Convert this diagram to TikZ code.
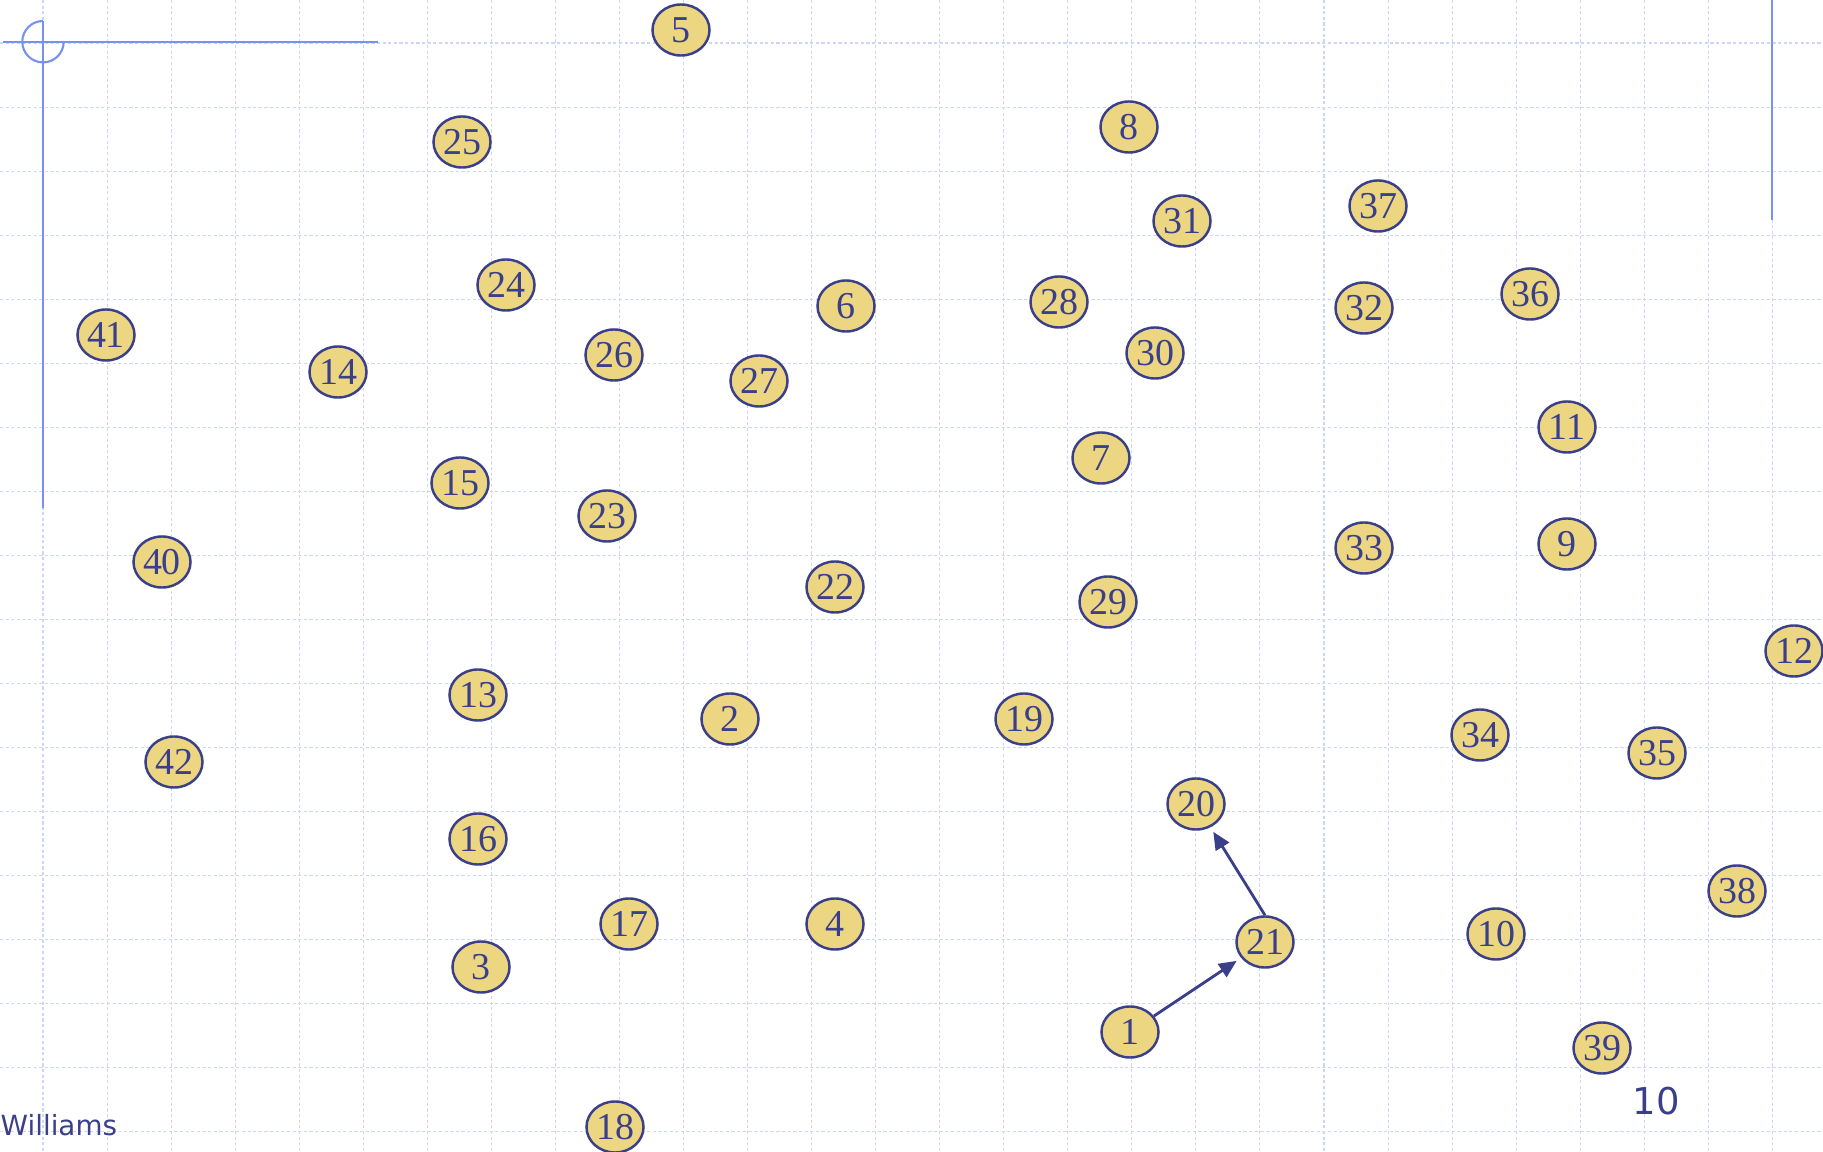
\documentclass[tikz,border=0pt]{standalone}
\usepackage{fontspec}
\setmainfont{Liberation Serif}
\newfontfamily\slidefont{DejaVu Sans}
\usepackage{xcolor}
\usepackage{tikz}
\usetikzlibrary{arrows.meta,shapes.geometric}
\definecolor{gridblue}{HTML}{CCD6F8}
\definecolor{ruleblue}{HTML}{7890EE}
\definecolor{inkblue}{HTML}{3A3F8A}
\definecolor{nodefill}{HTML}{EDD681}

\begin{document}
\begin{tikzpicture}[
    x=0.01cm, y=-0.01cm,
    gridline/.style={gridblue, line width=0.3pt, dash pattern=on 0.9pt off 0.7pt},
    rule/.style={ruleblue, line width=0.6pt},
    num/.style={ellipse, draw=inkblue, line width=0.7pt, fill=nodefill, text=inkblue,
        minimum width=0.57cm, minimum height=0.51cm, inner sep=0pt,
        font=\fontsize{10.8}{12}\selectfont},
    link/.style={inkblue, line width=0.8pt, -{Triangle[length=5pt,width=4.4pt]}, shorten >=1.5pt},
    footer/.style={text=inkblue, inner sep=0pt}
]
\useasboundingbox (0,0) rectangle (1823,1152);

\foreach \gx in {0,...,27}
    \draw[gridline] ({43+64.05*\gx},0) -- ({43+64.05*\gx},1152);
\foreach \gy in {0,...,17}
    \draw[gridline] (0,{43+64.05*\gy}) -- (1823,{43+64.05*\gy});

\draw[rule] (3,42) -- (378,42);
\draw[rule] (43,21) -- (43,508);
\draw[rule] (43,21) arc[start angle=90, end angle=360, radius=0.207cm];
\draw[rule] (1772,0) -- (1772,220);

\node[num] (n5) at (681,30) {5};
\node[num] (n25) at (462,142) {25};
\node[num] (n8) at (1129,127) {8};
\node[num] (n31) at (1182,221) {31};
\node[num] (n37) at (1378,206) {37};
\node[num] (n24) at (506,285) {24};
\node[num] (n6) at (846,306) {6};
\node[num] (n28) at (1059,302) {28};
\node[num] (n32) at (1364,308) {32};
\node[num] (n36) at (1530,294) {36};
\node[num] (n41) at (106,335) {41};
\node[num] (n14) at (338,372) {14};
\node[num] (n26) at (614,355) {26};
\node[num] (n27) at (759,381) {27};
\node[num] (n30) at (1155,353) {30};
\node[num] (n11) at (1567,427) {11};
\node[num] (n15) at (460,483) {15};
\node[num] (n23) at (607,516) {23};
\node[num] (n7) at (1101,458) {7};
\node[num] (n40) at (162,562) {40};
\node[num] (n22) at (835,587) {22};
\node[num] (n29) at (1108,602) {29};
\node[num] (n33) at (1364,548) {33};
\node[num] (n9) at (1567,544) {9};
\node[num] (n12) at (1794,651) {12};
\node[num] (n13) at (478,695) {13};
\node[num] (n2) at (730,719) {2};
\node[num] (n19) at (1024,719) {19};
\node[num] (n34) at (1480,735) {34};
\node[num] (n35) at (1657,753) {35};
\node[num] (n42) at (174,762) {42};
\node[num] (n20) at (1196,804) {20};
\node[num] (n16) at (478,839) {16};
\node[num] (n38) at (1737,891) {38};
\node[num] (n17) at (629,924) {17};
\node[num] (n4) at (835,924) {4};
\node[num] (n21) at (1265,942) {21};
\node[num] (n10) at (1496,934) {10};
\node[num] (n3) at (481,967) {3};
\node[num] (n1) at (1130,1032) {1};
\node[num] (n39) at (1602,1048) {39};
\node[num] (n18) at (615,1127) {18};

\draw[link] (n1) -- (n21);
\draw[link] (n21.north) -- (n20);

\node[footer, anchor=base west, font=\slidefont\fontsize{7.9}{9}\selectfont] (author) at (0,1136) {Williams};
\node[footer, anchor=base west, font=\slidefont\fontsize{10.5}{12}\selectfont] (page) at (1632,1115) {10};
\end{tikzpicture}
\end{document}
